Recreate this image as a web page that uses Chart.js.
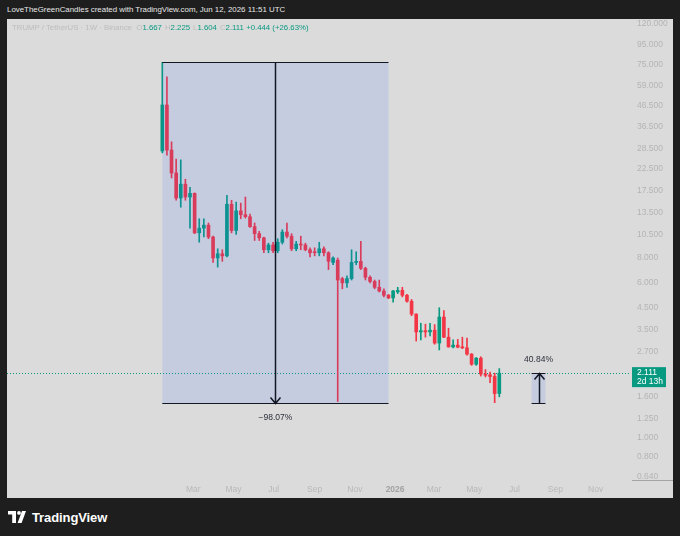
<!DOCTYPE html>
<html>
<head>
<meta charset="utf-8">
<script src="https://cdn.jsdelivr.net/npm/chart.js@4.4.1/dist/chart.umd.min.js"></script>
<style>
  html, body { margin: 0; padding: 0; }
  body { width: 680px; height: 536px; background: #1e1e1e; position: relative; overflow: hidden; font-family: "Liberation Sans", Arial, sans-serif; }
  #credit { position: absolute; left: 7px; top: 4px; font-size: 7.9px; line-height: 12px; color: #e8e8e8; white-space: nowrap; }
  #panel { position: absolute; left: 7px; top: 19px; width: 666px; height: 479px; background: #dbdbdb; }
  #legend { position: absolute; left: 5px; top: 3px; font-size: 7.8px; line-height: 11px; color: #bcbcbc; white-space: nowrap; z-index: 2; }
  #legend .v { color: #089981; }
  #legend .k { margin-left: 3px; }
  #brand { position: absolute; left: 8px; top: 509px; height: 16px; display: flex; align-items: center; }
  #brand span { color: #ffffff; font-size: 13px; font-weight: 700; margin-left: 6px; letter-spacing: -0.1px; }
</style>
</head>
<body>
<div id="credit">LoveTheGreenCandles created with TradingView.com, Jun 12, 2026 11:51 UTC</div>
<div id="panel">
  <div id="legend">TRUMP / TetherUS · 1W · Binance <span style="margin-left:2px">O</span><span class="v">1.667</span><span class="k">H</span><span class="v">2.225</span><span class="k">L</span><span class="v">1.604</span><span class="k">C</span><span class="v">2.111</span> <span class="v">+0.444 (+26.63%)</span></div>
  <div style="position:absolute;left:0;top:0;width:666px;height:479px;">
    <canvas id="chart"></canvas>
  </div>
</div>
<div id="brand">
  <svg width="18" height="12" viewBox="0 0 18 12">
    <path d="M0 0 H8 V12 H4.2 V3.6 H0 Z" fill="#fff"/>
    <circle cx="11" cy="1.9" r="1.9" fill="#fff"/>
    <path d="M9.6 12 L14 0 H18 L13.6 12 Z" fill="#fff"/>
  </svg>
  <span>TradingView</span>
</div>
<script>
// weekly candles, TRUMP / TetherUS, Binance
const weeks = [
  '2025-01-13', '2025-01-20', '2025-01-27',
  '2025-02-03', '2025-02-10', '2025-02-17', '2025-02-24',
  '2025-03-03', '2025-03-10', '2025-03-17', '2025-03-24', '2025-03-31',
  '2025-04-07', '2025-04-14', '2025-04-21', '2025-04-28',
  '2025-05-05', '2025-05-12', '2025-05-19', '2025-05-26',
  '2025-06-02', '2025-06-09', '2025-06-16', '2025-06-23', '2025-06-30',
  '2025-07-07', '2025-07-14', '2025-07-21', '2025-07-28',
  '2025-08-04', '2025-08-11', '2025-08-18', '2025-08-25',
  '2025-09-01', '2025-09-08', '2025-09-15', '2025-09-22', '2025-09-29',
  '2025-10-06', '2025-10-13', '2025-10-20', '2025-10-27',
  '2025-11-03', '2025-11-10', '2025-11-17', '2025-11-24',
  '2025-12-01', '2025-12-08', '2025-12-15', '2025-12-22', '2025-12-29',
  '2026-01-05', '2026-01-12', '2026-01-19', '2026-01-26',
  '2026-02-02', '2026-02-09', '2026-02-16', '2026-02-23',
  '2026-03-02', '2026-03-09', '2026-03-16', '2026-03-23', '2026-03-30',
  '2026-04-06', '2026-04-13', '2026-04-20', '2026-04-27',
  '2026-05-04', '2026-05-11', '2026-05-18', '2026-05-25',
  '2026-06-01', '2026-06-08'
];
const open = [
  27.6, 47.0, 27.9, 21.4, 16.0, 18.8, 16.2, 16.9, 10.7, 11.3, 11.7, 10.2,
  8.0, 8.4, 8.2, 14.9, 11.0, 13.8, 13.2, 12.9, 11.5, 10.6, 10.1, 8.8, 9.3,
  8.7, 9.6, 10.8, 10.3, 8.9, 9.4, 9.3, 8.8, 8.6, 8.5, 8.9, 8.5, 7.6,
  7.8, 6.3, 6.0, 6.3, 7.6, 7.7, 7.1, 6.4, 6.1, 5.7, 5.46, 5.2, 5.04,
  5.4, 5.5, 5.2, 4.85, 4.18, 3.40, 3.45, 3.40, 3.47, 2.99, 4.04, 3.2, 2.86,
  2.92, 2.86, 2.83, 2.63, 2.34, 2.51, 2.09, 2.07, 2.03, 1.667
];
const high = [
  77.0, 65.0, 30.7, 25.1, 24.9, 19.9, 18.1, 17.0, 12.6, 12.6, 12.0, 10.3,
  8.9, 8.8, 16.5, 15.6, 15.3, 15.1, 16.2, 13.3, 12.0, 10.9, 10.2, 9.5, 9.6,
  10.0, 11.1, 12.0, 10.6, 9.7, 10.3, 9.5, 9.0, 9.0, 9.6, 9.1, 8.6, 8.1,
  8.0, 6.4, 6.5, 8.8, 8.6, 9.7, 7.2, 6.5, 6.2, 6.2, 5.6, 5.25, 5.5,
  5.7, 5.7, 5.25, 4.95, 4.2, 3.76, 3.72, 3.76, 3.7, 4.5, 4.36, 3.55, 3.1,
  3.12, 3.2, 3.17, 2.65, 2.53, 2.55, 2.2, 2.14, 2.11, 2.225
];
const low = [
  27.0, 26.3, 20.2, 15.6, 14.4, 15.6, 11.3, 10.6, 9.6, 10.2, 10.0, 7.6,
  7.2, 7.7, 8.1, 10.7, 10.5, 12.6, 12.7, 11.4, 9.8, 9.8, 8.5, 8.5, 8.5,
  8.5, 9.4, 10.1, 8.7, 8.7, 8.8, 8.7, 8.1, 8.2, 8.2, 8.2, 7.0, 7.4,
  1.52, 5.6, 5.7, 6.2, 7.4, 7.0, 6.2, 6.0, 5.6, 5.4, 5.1, 5.0, 4.8,
  5.3, 5.1, 4.8, 4.1, 3.06, 3.1, 3.2, 3.25, 2.95, 2.76, 3.18, 2.85, 2.83,
  2.83, 2.8, 2.6, 2.31, 2.31, 2.04, 2.02, 1.89, 1.50, 1.604
];
const close = [
  47.0, 27.9, 21.4, 16.0, 18.8, 16.2, 16.9, 10.7, 11.3, 11.7, 10.2, 8.0,
  8.4, 8.2, 14.9, 11.0, 13.8, 13.2, 12.9, 11.5, 10.6, 10.1, 8.8, 9.3, 8.7,
  9.6, 10.8, 10.3, 8.9, 9.4, 9.3, 8.8, 8.5, 8.5, 8.9, 8.5, 7.7, 8.0,
  6.2, 6.0, 6.3, 7.6, 7.7, 7.1, 6.4, 6.1, 5.7, 5.46, 5.2, 5.04, 5.46,
  5.5, 5.2, 4.85, 4.18, 3.40, 3.45, 3.40, 3.47, 2.99, 4.04, 3.2, 2.86, 2.92,
  2.85, 2.83, 2.63, 2.34, 2.51, 2.09, 2.06, 2.03, 1.667, 2.111
];
const lastPrice = 2.111;

// axis ticks
const priceTicks = [0.64, 0.8, 1, 1.25, 1.6, 2.7, 3.5, 4.5, 6, 8, 10.5, 13.5, 17.5, 22.5, 28.5, 36.5, 46.5, 59, 75, 95, 120];
const tickDates = ['2025-03-01', '2025-05-01', '2025-07-01', '2025-09-01', '2025-11-01', '2026-01-01',
                   '2026-03-01', '2026-05-01', '2026-07-01', '2026-09-01', '2026-11-01'];
const tickLabels = ['Mar', 'May', 'Jul', 'Sep', 'Nov', '2026', 'Mar', 'May', 'Jul', 'Sep', 'Nov'];

// price range drawings
const measureStart = ['2025-01-13', '2026-07-27'];
const measureEnd = ['2025-12-22', '2026-08-17'];
const measureFrom = [77.67, 1.499];
const measureTo = [1.499, 2.111];
const measureText = ['\u221298.07%', '40.84%'];

const UP = '#089981', DOWN = '#f23645';
const toDay = s => (Date.parse(s) - Date.parse('2025-01-01')) / 864e5;
const colors = open.map((o, i) => close[i] >= o ? UP : DOWN);

const overlay = {
  id: 'overlay',
  beforeDatasetsDraw(chart) {
    const {ctx, chartArea, scales: {y}} = chart;
    const py = Math.round(y.getPixelForValue(lastPrice)) + 0.5;
    ctx.save();
    ctx.strokeStyle = UP;
    ctx.lineWidth = 1;
    ctx.setLineDash([1, 2]);
    ctx.beginPath();
    ctx.moveTo(chartArea.left, py);
    ctx.lineTo(chartArea.right, py);
    ctx.stroke();
    ctx.restore();
  },
  afterDatasetsDraw(chart) {
    const {ctx, scales: {x, y}} = chart;
    ctx.save();
    measureStart.forEach((d, i) => {
      const x0 = x.getPixelForValue(toDay(d));
      const x1 = x.getPixelForValue(toDay(measureEnd[i]));
      const yFrom = Math.round(y.getPixelForValue(measureFrom[i])) + 0.5;
      const yTo = Math.round(y.getPixelForValue(measureTo[i])) + 0.5;
      const xm = Math.round((x0 + x1) / 2) + 0.5;
      const down = yTo > yFrom;
      ctx.fillStyle = 'rgba(41, 98, 255, 0.12)';
      ctx.fillRect(x0, Math.min(yFrom, yTo), x1 - x0, Math.abs(yTo - yFrom));
      ctx.strokeStyle = '#131722';
      ctx.lineWidth = 1;
      ctx.beginPath();
      ctx.moveTo(x0, yFrom); ctx.lineTo(x1, yFrom);
      ctx.moveTo(x0, yTo); ctx.lineTo(x1, yTo);
      ctx.stroke();
      ctx.lineWidth = 1.5;
      ctx.beginPath();
      ctx.moveTo(xm, yFrom); ctx.lineTo(xm, yTo);
      const s = down ? -1 : 1;
      ctx.moveTo(xm - 5, yTo + s * 6); ctx.lineTo(xm, yTo); ctx.lineTo(xm + 5, yTo + s * 6);
      ctx.stroke();
      ctx.fillStyle = '#2a2e39';
      ctx.font = '8.5px "Liberation Sans", Arial, sans-serif';
      ctx.textAlign = 'center';
      ctx.textBaseline = 'middle';
      ctx.fillText(measureText[i], (x0 + x1) / 2, yTo + (down ? 14 : -14));
    });
    ctx.restore();
  },
  afterDraw(chart) {
    const {ctx, chartArea, scales: {y}} = chart;
    const py = y.getPixelForValue(lastPrice);
    ctx.save();
    ctx.strokeStyle = '#a4a4a4';
    ctx.lineWidth = 1;
    ctx.beginPath();
    ctx.moveTo(chartArea.right + 2, chartArea.bottom - 0.5);
    ctx.lineTo(chart.width, chartArea.bottom - 0.5);
    ctx.stroke();
    ctx.fillStyle = UP;
    ctx.fillRect(chartArea.right + 2, py - 6, 34, 20);
    ctx.fillStyle = '#ffffff';
    ctx.font = '8.5px "Liberation Sans", Arial, sans-serif';
    ctx.textAlign = 'left';
    ctx.textBaseline = 'middle';
    ctx.fillText(lastPrice.toFixed(3), chartArea.right + 7, py - 0.5);
    ctx.fillText('2d 13h', chartArea.right + 7, py + 8.5);
    ctx.restore();
  }
};

new Chart(document.getElementById('chart'), {
  type: 'bar',
  data: {
    datasets: [{
      label: 'wick',
      data: weeks.map((w, i) => ({x: toDay(w), y: [low[i], high[i]]})),
      backgroundColor: colors,
      barThickness: 1,
      grouped: false,
      order: 2
    }, {
      label: 'body',
      data: weeks.map((w, i) => ({x: toDay(w), y: [open[i], close[i]]})),
      backgroundColor: colors,
      barThickness: 3,
      minBarLength: 1,
      grouped: false,
      order: 1
    }]
  },
  options: {
    responsive: true,
    maintainAspectRatio: false,
    animation: false,
    layout: { padding: 0 },
    plugins: { legend: { display: false }, tooltip: { enabled: false } },
    scales: {
      x: {
        type: 'linear',
        min: -223.5,
        max: 721.2,
        bounds: 'data',
        offset: false,
        grid: { display: false, drawTicks: false },
        border: { display: false },
        afterBuildTicks: s => { s.ticks = tickDates.map(d => ({ value: toDay(d) })); },
        afterFit: s => { s.height = 17; s.paddingLeft = 0; s.paddingRight = 0; },
        ticks: {
          autoSkip: false,
          maxRotation: 0,
          padding: 4,
          color: c => tickLabels[c.index] === '2026' ? '#a2a2a2' : '#b8b8b8',
          font: c => ({ family: '"Liberation Sans", Arial, sans-serif', size: 8.5, weight: tickLabels[c.index] === '2026' ? 'bold' : 'normal' }),
          callback: (v, i) => tickLabels[i]
        }
      },
      y: {
        type: 'logarithmic',
        position: 'right',
        min: 0.606,
        max: 127.1,
        bounds: 'data',
        grid: { display: false, drawTicks: false },
        border: { display: false },
        afterBuildTicks: s => { s.ticks = priceTicks.map(v => ({ value: v })); },
        afterFit: s => { s.width = 43; s.paddingTop = 0; s.paddingBottom = 0; },
        ticks: {
          autoSkip: false,
          padding: 7,
          color: '#b4b4b4',
          font: { family: '"Liberation Sans", Arial, sans-serif', size: 8.5 },
          callback: v => Number(v).toFixed(3)
        }
      }
    }
  },
  plugins: [overlay]
});
</script>
</body>
</html>
